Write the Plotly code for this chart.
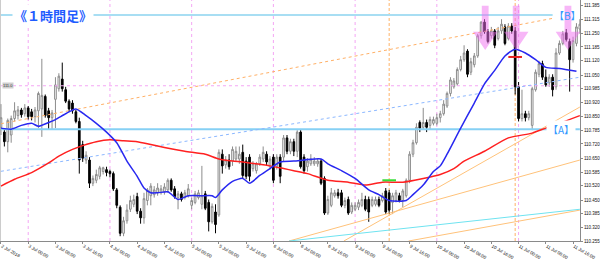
import plotly.graph_objects as go

# ---------------- data ----------------
open_ = [
110.800,110.777,110.731,110.763,110.842,110.856,110.883,110.865,110.893,110.874,
110.851,110.879,110.888,110.948,110.879,110.846,110.934,110.985,111.031,110.980,
110.925,110.916,110.874,110.828,110.717,110.643,110.643,110.532,110.546,110.565,
110.588,110.597,110.588,110.578,110.500,110.417,110.292,110.352,110.407,110.431,
110.468,110.398,110.366,110.449,110.472,110.477,110.486,110.486,110.491,110.500,
110.546,110.505,110.463,110.481,110.463,110.472,110.426,110.440,110.463,110.431,
110.481,110.440,110.347,110.394,110.380,110.671,110.620,110.643,110.638,110.648,
110.648,110.680,110.638,110.657,110.602,110.592,110.625,110.648,110.671,110.611,
110.657,110.611,110.657,110.657,110.749,110.685,110.731,110.685,110.777,110.657,
110.611,110.625,110.625,110.625,110.638,110.555,110.389,110.426,110.472,110.486,
110.486,110.426,110.454,110.394,110.407,110.417,110.426,110.454,110.454,110.426,
110.431,110.454,110.449,110.495,110.486,110.440,110.449,110.472,110.449,110.472,
110.546,110.671,110.726,110.823,110.800,110.823,110.809,110.819,110.819,110.846,
110.865,110.902,110.962,110.994,111.008,111.077,111.124,111.165,111.064,111.100,
111.142,111.239,111.304,111.258,111.239,111.262,111.225,111.262,111.281,111.225,
111.285,111.262,110.994,110.842,110.865,110.846,110.809,110.980,111.054,111.105,
111.040,111.013,111.040,110.994,111.156,111.202,111.253,111.211,111.124,111.202,
111.271]
high = [
110.911,110.796,110.842,110.856,110.920,110.902,110.893,110.911,110.902,110.888,
110.897,110.971,111.128,110.957,110.893,110.883,111.040,111.059,111.110,110.994,
110.934,110.930,110.883,110.846,110.735,110.685,110.657,110.569,110.597,110.615,
110.611,110.611,110.597,110.588,110.509,110.426,110.371,110.431,110.472,110.477,
110.486,110.412,110.486,110.509,110.532,110.518,110.532,110.523,110.532,110.555,
110.555,110.518,110.495,110.491,110.500,110.528,110.463,110.495,110.500,110.615,
110.495,110.454,110.435,110.431,110.694,110.694,110.662,110.671,110.708,110.708,
110.708,110.717,110.657,110.671,110.638,110.634,110.671,110.708,110.685,110.662,
110.671,110.671,110.671,110.763,110.763,110.745,110.745,110.786,110.786,110.671,
110.652,110.671,110.657,110.652,110.648,110.565,110.472,110.509,110.500,110.505,
110.500,110.463,110.468,110.440,110.440,110.454,110.486,110.472,110.468,110.468,
110.468,110.468,110.486,110.509,110.500,110.486,110.500,110.486,110.505,110.555,
110.685,110.740,110.819,110.833,110.893,110.837,110.851,110.851,110.865,110.879,
110.930,110.971,111.040,111.036,111.087,111.142,111.193,111.174,111.133,111.156,
111.248,111.308,111.318,111.271,111.281,111.271,111.281,111.318,111.294,111.299,
111.299,111.281,111.017,110.980,110.879,110.879,110.994,111.077,111.119,111.119,
111.077,111.054,111.054,111.179,111.216,111.262,111.271,111.225,111.234,111.299,
111.318]
low = [
110.763,110.708,110.680,110.726,110.828,110.837,110.846,110.851,110.837,110.833,
110.823,110.796,110.754,110.846,110.791,110.791,110.796,110.971,110.971,110.916,
110.874,110.865,110.819,110.578,110.634,110.625,110.509,110.518,110.532,110.551,
110.574,110.565,110.560,110.495,110.412,110.278,110.278,110.338,110.394,110.417,
110.384,110.338,110.338,110.426,110.426,110.463,110.472,110.477,110.477,110.486,
110.491,110.458,110.407,110.444,110.454,110.463,110.407,110.431,110.454,110.407,
110.403,110.301,110.338,110.292,110.371,110.578,110.602,110.597,110.615,110.634,
110.625,110.555,110.551,110.541,110.588,110.578,110.615,110.634,110.615,110.597,
110.532,110.597,110.532,110.634,110.671,110.671,110.662,110.657,110.602,110.578,
110.588,110.615,110.615,110.611,110.523,110.380,110.380,110.417,110.463,110.458,
110.417,110.412,110.380,110.384,110.398,110.403,110.417,110.398,110.347,110.417,
110.421,110.417,110.440,110.384,110.384,110.384,110.440,110.440,110.417,110.463,
110.532,110.657,110.717,110.777,110.791,110.777,110.791,110.809,110.809,110.823,
110.856,110.893,110.948,110.985,110.999,111.068,111.114,111.040,111.050,111.087,
111.133,111.225,111.248,111.202,111.225,111.179,111.216,111.248,111.193,111.216,
111.248,110.957,110.828,110.828,110.828,110.833,110.786,110.971,111.040,111.027,
110.994,110.994,110.948,110.980,111.147,111.193,111.211,110.971,111.110,111.188,
111.248]
close = [
110.846,110.731,110.833,110.842,110.879,110.883,110.860,110.893,110.851,110.851,
110.883,110.962,110.953,110.856,110.846,110.869,111.003,111.045,110.985,110.925,
110.888,110.879,110.828,110.643,110.652,110.666,110.532,110.555,110.574,110.606,
110.606,110.583,110.578,110.505,110.426,110.292,110.352,110.403,110.449,110.454,
110.398,110.366,110.458,110.500,110.518,110.500,110.509,110.505,110.514,110.546,
110.500,110.468,110.481,110.454,110.486,110.505,110.449,110.481,110.486,110.472,
110.412,110.347,110.421,110.334,110.680,110.615,110.643,110.611,110.694,110.685,
110.671,110.569,110.565,110.565,110.625,110.625,110.657,110.680,110.634,110.648,
110.546,110.657,110.565,110.749,110.685,110.731,110.685,110.777,110.611,110.592,
110.638,110.648,110.638,110.638,110.532,110.389,110.454,110.486,110.486,110.472,
110.426,110.449,110.389,110.426,110.426,110.440,110.454,110.407,110.394,110.454,
110.454,110.426,110.472,110.394,110.403,110.472,110.486,110.449,110.495,110.546,
110.671,110.726,110.800,110.796,110.823,110.800,110.837,110.837,110.846,110.865,
110.911,110.962,111.027,111.022,111.077,111.124,111.156,111.054,111.114,111.142,
111.239,111.304,111.258,111.211,111.262,111.193,111.262,111.294,111.202,111.285,
111.262,110.994,110.842,110.865,110.846,110.865,110.985,111.064,111.105,111.040,
111.003,111.040,110.980,111.156,111.202,111.248,111.221,111.124,111.216,111.281,
111.294]

# moving averages (read at selected bars)
ma_blue_bars = [0,3,6,9,11,14,16,19,22,25,28,31,34,37,40,42,44,46,49,52,55,59,62,63,65,68,71,73,76,79,82,86,94,96,100,104,108,111,114,119,121,124,127,129,131,135,139,142,145,148,151,154,157,160,164,169]
ma_blue = [110.796,110.791,110.809,110.819,110.805,110.823,110.837,110.865,110.888,110.856,
           110.819,110.777,110.726,110.638,110.565,110.509,110.486,110.486,110.491,110.454,
           110.472,110.472,110.472,110.463,110.500,110.541,110.555,110.532,110.569,110.602,
           110.634,110.638,110.648,110.625,110.592,110.555,110.500,110.477,110.449,110.449,
           110.477,110.523,110.588,110.615,110.671,110.796,110.916,111.008,111.073,111.142,
           111.174,111.156,111.124,111.087,111.082,111.068]
ma_red_bars = [0,4,9,14,17,21,24,28,32,36,40,44,48,54,60,64,68,71,75,79,83,86,90,96,102,107,112,118,124,129,133,136,142,149,156,160,164,170]
ma_red = [110.518,110.551,110.583,110.629,110.662,110.694,110.712,110.731,110.740,110.735,
          110.731,110.717,110.703,110.685,110.671,110.648,110.638,110.634,110.625,110.615,
          110.602,110.592,110.578,110.546,110.537,110.523,110.537,110.537,110.555,110.574,
          110.602,110.638,110.685,110.749,110.772,110.796,110.819,110.856]

# x-axis tick labels (every 8 bars)
tick_bars = list(range(0, 169, 8))
tick_text = ["2 Jul 2018", "3 Jul 00:00", "3 Jul 08:00", "3 Jul 16:00", "4 Jul 00:00", "4 Jul 08:00",
             "4 Jul 16:00", "5 Jul 00:00", "5 Jul 08:00", "5 Jul 16:00", "6 Jul 00:00", "6 Jul 08:00",
             "6 Jul 16:00", "9 Jul 00:00", "9 Jul 08:00", "9 Jul 16:00", "10 Jul 00:00", "10 Jul 08:00",
             "10 Jul 16:00", "11 Jul 00:00", "11 Jul 08:00", "11 Jul 16:00"]
price_ticks = [111.385, 111.315, 111.250, 111.185, 111.120, 111.050, 110.985, 110.920, 110.850,
               110.785, 110.720, 110.650, 110.585, 110.520, 110.450, 110.385, 110.320, 110.255]

day_start_bars = [8, 32, 56, 80, 104, 128, 152]
event_bars = [114, 151]
level_B = 111.338
level_A = 110.791
level_round = 110.999

# trend lines: (bar0, price0, bar1, price1)
chan_upper = (0, 110.817, 162, 111.322)
chan_lower = (0, 110.589, 170, 111.040)
fan_a = (100.7, 110.255, 170, 110.897)
fan_b = (84.6, 110.255, 170, 110.643)
fan_c = (119.7, 110.255, 170, 110.403)
fan_d = (84.6, 110.255, 170, 110.407)

arrow_bars = [142.2, 151.3, 166.5]
arrow_top, arrow_neck, arrow_tip = 111.382, 111.258, 111.170
red_mark = (149, 153, 111.137)
green_mark = (112, 116, 110.546)

bars = list(range(len(close)))

fig = go.Figure()

def seg(t, color, width, dash=None):
    fig.add_trace(go.Scatter(x=[t[0], t[2]], y=[t[1], t[3]], mode="lines",
                             line=dict(color=color, width=width, dash=dash),
                             hoverinfo="skip", showlegend=False))

# horizontal levels
seg((0, level_B, 162, level_B), "#a8def3", 2)
seg((0, level_A, 170, level_A), "#86d0f4", 2)
seg((0, level_round, 170, level_round), "#f4a6f4", 1, "dot")

# channel and fan lines
seg(chan_upper, "#ffb066", 1, "dot")
seg(chan_lower, "#8cb8ff", 1, "dot")
seg(fan_a, "#ffc27a", 1)
seg(fan_b, "#ffc27a", 1)
seg(fan_c, "#ffc27a", 1)
seg(fan_d, "#6fe3f0", 1)

# candles
fig.add_trace(go.Candlestick(
    x=bars, open=open_, high=high, low=low, close=close,
    increasing=dict(line=dict(color="#8c8c8c", width=1), fillcolor="white"),
    decreasing=dict(line=dict(color="black", width=1), fillcolor="black"),
    whiskerwidth=0, hoverinfo="skip", showlegend=False))

# moving averages
fig.add_trace(go.Scatter(x=ma_red_bars, y=ma_red, mode="lines",
                         line=dict(color="#ff2020", width=1.5, shape="spline", smoothing=0.6),
                         hoverinfo="skip", showlegend=False))
fig.add_trace(go.Scatter(x=ma_blue_bars, y=ma_blue, mode="lines",
                         line=dict(color="#2828f0", width=1.5, shape="spline", smoothing=0.6),
                         hoverinfo="skip", showlegend=False))

# short markers
seg((red_mark[0], red_mark[2], red_mark[1], red_mark[2]), "#e82020", 2)
seg((green_mark[0], green_mark[2], green_mark[1], green_mark[2]), "#33dd33", 2)

# arrows
ax, ay = [], []
hs, hh = 1.0, 3.6
for c in arrow_bars:
    ax += [c - hs, c + hs, c + hs, c + hh, c, c - hh, c - hs, c - hs, None]
    ay += [arrow_top, arrow_top, arrow_neck, arrow_neck, arrow_tip, arrow_neck, arrow_neck, arrow_top, None]
fig.add_trace(go.Scatter(x=ax, y=ay, mode="lines", fill="toself",
                         fillcolor="rgba(240,110,240,0.5)", line=dict(width=0),
                         hoverinfo="skip", showlegend=False))

shapes = []
for b in day_start_bars:
    shapes.append(dict(type="line", xref="x", yref="paper", x0=b, x1=b, y0=0, y1=1,
                       line=dict(color="#f4a6f4", width=1, dash="dot"), layer="below"))
for b in event_bars:
    shapes.append(dict(type="line", xref="x", yref="paper", x0=b, x1=b, y0=0, y1=1,
                       line=dict(color="#ffb266", width=1, dash="3px,2px"), layer="below"))
shapes.append(dict(type="line", xref="paper", yref="paper", x0=0, x1=0, y0=0, y1=1,
                   line=dict(color="#9a9a9a", width=1)))

annotations = [
    dict(text="<b>《１時間足》</b>", xref="paper", yref="paper", x=0.02, y=0.936,
         xanchor="left", yanchor="middle", showarrow=False, bgcolor="white",
         font=dict(family="Noto Sans CJK JP", size=13, color="#1f5cff")),
    dict(text="【B】", xref="x", yref="y", x=166.5, y=level_B, showarrow=False,
         font=dict(family="Noto Sans CJK JP", size=10, color="#3399ff")),
    dict(text="【A】", xref="x", yref="y", x=164.5, y=level_A, showarrow=False,
         bgcolor="white", borderpad=1,
         font=dict(family="Noto Sans CJK JP", size=10, color="#3399ff")),
    dict(text="111.0", xref="paper", yref="y", x=0.004, y=level_round, xanchor="left",
         showarrow=False, bgcolor="#cfcfcf", borderpad=0,
         font=dict(family="Liberation Sans", size=4, color="#333")),
]

fig.update_layout(
    width=600, height=260, margin=dict(l=0, r=18, t=0, b=10),
    paper_bgcolor="white", plot_bgcolor="white", showlegend=False,
    shapes=shapes, annotations=annotations,
    xaxis=dict(range=[-0.284, 170.04], showgrid=False, zeroline=False,
               rangeslider=dict(visible=False), showline=True, linecolor="#8a8a8a",
               ticks="outside", ticklen=2, tickcolor="#8a8a8a",
               tickvals=tick_bars, ticktext=tick_text, ticklabelposition="outside right",
               tickfont=dict(family="Liberation Sans", size=4.5, color="#111")),
    yaxis=dict(range=[110.255, 111.410], side="right", showgrid=False, zeroline=False,
               showline=True, linecolor="#8a8a8a", ticks="outside", ticklen=2,
               tickcolor="#8a8a8a", tickvals=price_ticks,
               ticktext=[f"{v:.3f}" for v in price_ticks],
               tickfont=dict(family="Liberation Sans", size=4.5, color="#111")),
)

fig.write_html("out.html")
